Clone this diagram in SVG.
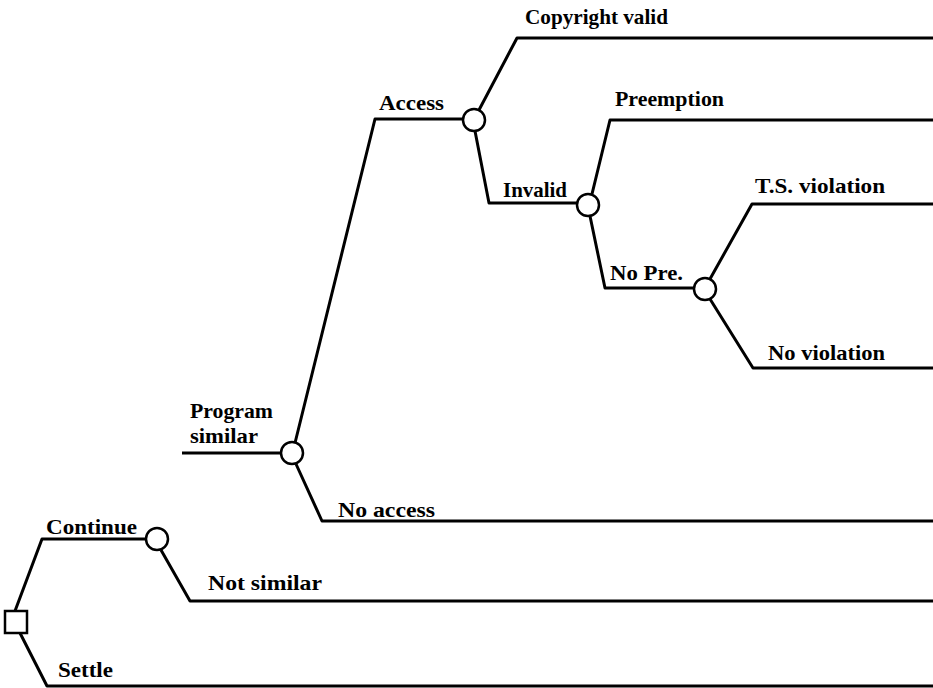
<svg xmlns="http://www.w3.org/2000/svg" width="933" height="688" viewBox="0 0 933 688">
<style>
.e{fill:none;stroke:#000;stroke-width:3;stroke-linejoin:round}
.c{fill:#fff;stroke:#000;stroke-width:2.5}
text{font-family:"Liberation Serif","Times New Roman",serif;font-size:21px;font-weight:bold;fill:#000}
</style>
<rect width="933" height="688" fill="#fff"/>
<g id="connectors">
<polyline class="e" points="15,611 42,539 146,539"/>
<polyline class="e" points="20,633 47,686 933,686"/>
<polyline class="e" points="161,550 190,601 933,601"/>
<polyline class="e" points="182,453 281,453"/>
<polyline class="e" points="295,443 375,119 463,119"/>
<polyline class="e" points="296,464 322,521 933,521"/>
<polyline class="e" points="479,110 517,38 933,38"/>
<polyline class="e" points="475,131 489,203 577,203"/>
<polyline class="e" points="592,194 610,120 933,120"/>
<polyline class="e" points="590,216 605,288 694,288"/>
<polyline class="e" points="710,279 752,204 933,204"/>
<polyline class="e" points="710,299 753,368 933,368"/>
</g>
<g id="decision"><rect class="c" x="5" y="611" width="22" height="22"/></g>
<g id="n-continue"><circle class="c" cx="157" cy="539" r="11"/></g>
<g id="n-similar"><circle class="c" cx="292" cy="453" r="11"/></g>
<g id="n-access"><circle class="c" cx="474" cy="120" r="11"/></g>
<g id="n-invalid"><circle class="c" cx="588" cy="205" r="11"/></g>
<g id="n-nopre"><circle class="c" cx="705" cy="289" r="11"/></g>
<g id="labels">
<text x="525" y="24" textLength="143" lengthAdjust="spacingAndGlyphs">Copyright valid</text>
<text x="379" y="110" textLength="65" lengthAdjust="spacingAndGlyphs">Access</text>
<text x="615" y="106" textLength="109" lengthAdjust="spacingAndGlyphs">Preemption</text>
<text x="503" y="197" textLength="64" lengthAdjust="spacingAndGlyphs">Invalid</text>
<text x="755" y="193" textLength="130" lengthAdjust="spacingAndGlyphs">T.S. violation</text>
<text x="610" y="280" textLength="73" lengthAdjust="spacingAndGlyphs">No Pre.</text>
<text x="768" y="360" textLength="117" lengthAdjust="spacingAndGlyphs">No violation</text>
<text x="190" y="418" textLength="83" lengthAdjust="spacingAndGlyphs">Program</text>
<text x="190" y="443" textLength="68" lengthAdjust="spacingAndGlyphs">similar</text>
<text x="338" y="517" textLength="97" lengthAdjust="spacingAndGlyphs">No access</text>
<text x="46" y="534" textLength="91" lengthAdjust="spacingAndGlyphs">Continue</text>
<text x="208" y="590" textLength="114" lengthAdjust="spacingAndGlyphs">Not similar</text>
<text x="58" y="677" textLength="55" lengthAdjust="spacingAndGlyphs">Settle</text>
</g>
</svg>
